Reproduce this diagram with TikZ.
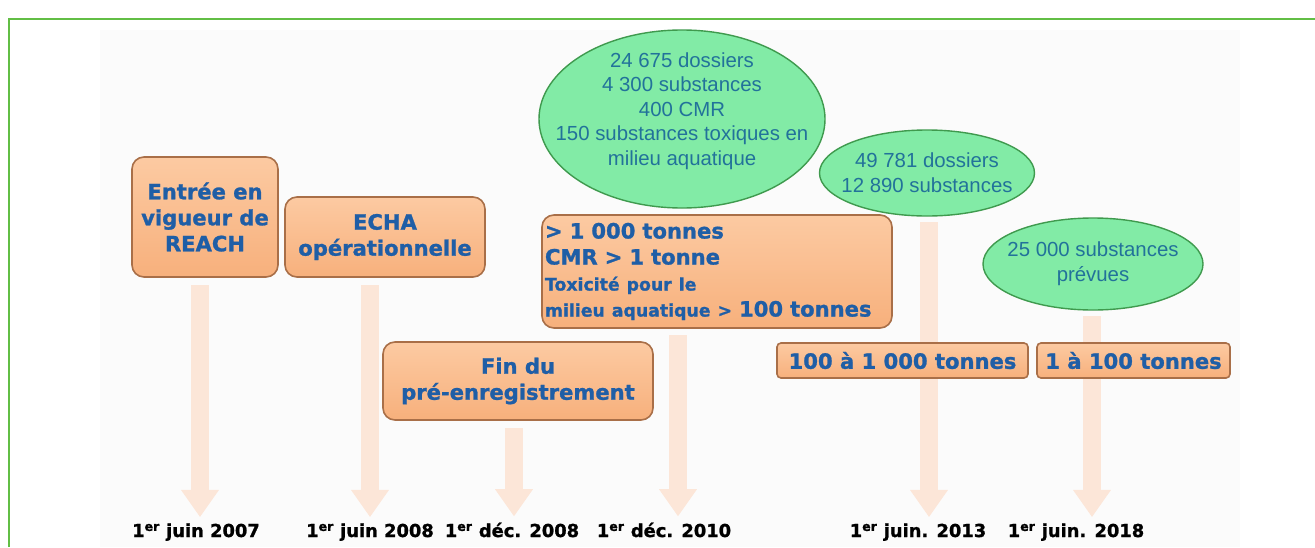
\documentclass[tikz,border=0pt]{standalone}
\usepackage{fontspec}
\setmainfont{Liberation Sans}
\newfontfamily\grasfont{DejaVu Sans}[BoldFeatures={FakeBold=1.2}]
\usetikzlibrary{
    arrows.meta,
    shapes.geometric
}

\definecolor{cadre}{HTML}{62BE45}
\definecolor{boxtop}{HTML}{FCCAA2}
\definecolor{boxbot}{HTML}{F7B07C}
\definecolor{boxline}{HTML}{A96F48}
\definecolor{bleutexte}{HTML}{1F5EA6}
\definecolor{vert}{HTML}{82EBA6}
\definecolor{vertline}{HTML}{3F9A4E}
\definecolor{bulletexte}{HTML}{22729A}
\definecolor{flechecol}{HTML}{FCE6D8}

\begin{document}
\begin{tikzpicture}[x=0.25mm,y=-0.25mm,
    etape/.style={rectangle,rounded corners=3mm,top color=boxtop,bottom color=boxbot,
        draw=boxline,line width=0.4mm,text=bleutexte,align=center,inner sep=0pt,
        font=\grasfont\bfseries\fontsize{15}{18.5}\selectfont},
    bulle/.style={ellipse,fill=vert,draw=vertline,line width=0.35mm,inner sep=0pt},
    bulletxt/.style={text=bulletexte,align=center,font=\fontsize{14.5}{17.5}\selectfont},
    datelbl/.style={inner sep=0pt,anchor=base,font=\grasfont\bfseries\fontsize{12.7}{15}\selectfont},
    fleche/.style={draw=flechecol,line width=4.5mm,-{Triangle[width=9mm,length=6.8mm]}}
]

\useasboundingbox (0,0) rectangle (1315,547);

%====================================================
% Cadre et fond
%====================================================

\fill[black!1.5] (100,30) rectangle (1240,547);
\draw[cadre,line width=0.7mm] (9,547) -- (9,19) -- (1315,19);

%====================================================
% Dates
%====================================================

\node[datelbl] (d2007)  at (196,537) {1\textsuperscript{er} juin 2007};
\node[datelbl] (d2008a) at (370,537) {1\textsuperscript{er} juin 2008};
\node[datelbl] (d2008b) at (512,537) {1\textsuperscript{er} déc. 2008};
\node[datelbl] (d2010)  at (664,537) {1\textsuperscript{er} déc. 2010};
\node[datelbl] (d2013)  at (918,537) {1\textsuperscript{er} juin. 2013};
\node[datelbl] (d2018)  at (1076,537) {1\textsuperscript{er} juin. 2018};

%====================================================
% Fleches
%====================================================

\coordinate (t1) at (200,285);
\coordinate (t2) at (370,285);
\coordinate (t3) at (514,428);
\coordinate (t4) at (678,335);
\coordinate (t5) at (929,222);
\coordinate (t6) at (1092,316);

\draw[fleche] (t1) -- ([yshift=1.5mm]t1 |- d2007.north);
\draw[fleche] (t2) -- ([yshift=1.5mm]t2 |- d2008a.north);
\draw[fleche] (t3) -- ([yshift=1.5mm]t3 |- d2008b.north);
\draw[fleche] (t4) -- ([yshift=1.5mm]t4 |- d2010.north);
\draw[fleche] (t5) -- ([yshift=1.5mm]t5 |- d2013.north);
\draw[fleche] (t6) -- ([yshift=1.5mm]t6 |- d2018.north);

%====================================================
% Etapes
%====================================================

\node[etape,minimum width=36.5mm,minimum height=30mm] (reach) at (205,217)
    {Entrée en\\vigueur de\\REACH};
\node[etape,minimum width=50mm,minimum height=20mm] (echa) at (385,237)
    {ECHA\\opérationnelle};
\node[etape,minimum width=67.5mm,minimum height=19.5mm] (prereg) at (518,381)
    {Fin du\\pré-enregistrement};
\node[etape,minimum width=87.5mm,minimum height=28.25mm,text width=86mm,align=left] (tonnes1000) at (717,271.5)
    {> 1 000 tonnes\\
     CMR > 1 tonne\\
     {\fontsize{12.3}{15}\selectfont Toxicité pour le}\\
     {\fontsize{12.3}{15}\selectfont milieu aquatique >} 100 tonnes};
\node[etape,rounded corners=1mm,minimum width=62.75mm,minimum height=8.75mm] (tonnes100) at (902.5,360.5)
    {100 à 1 000 tonnes};
\node[etape,rounded corners=1mm,minimum width=48.25mm,minimum height=8.75mm] (tonnes1) at (1133.5,360.5)
    {1 à 100 tonnes};

%====================================================
% Bulles
%====================================================

\node[bulle,minimum width=71.5mm,minimum height=44.5mm,
    label={[bulletxt,yshift=2mm]center:{24 675 dossiers\\4 300 substances\\400 CMR\\150 substances toxiques en\\milieu aquatique}}]
    (e2010) at (682,119) {};
\node[bulle,minimum width=53.75mm,minimum height=21.5mm,
    label={[bulletxt]center:{49 781 dossiers\\12 890 substances}}]
    (e2013) at (927,173) {};
\node[bulle,minimum width=55mm,minimum height=23mm,
    label={[bulletxt]center:{25 000 substances\\prévues}}]
    (e2018) at (1093,264) {};
\end{tikzpicture}
\end{document}
